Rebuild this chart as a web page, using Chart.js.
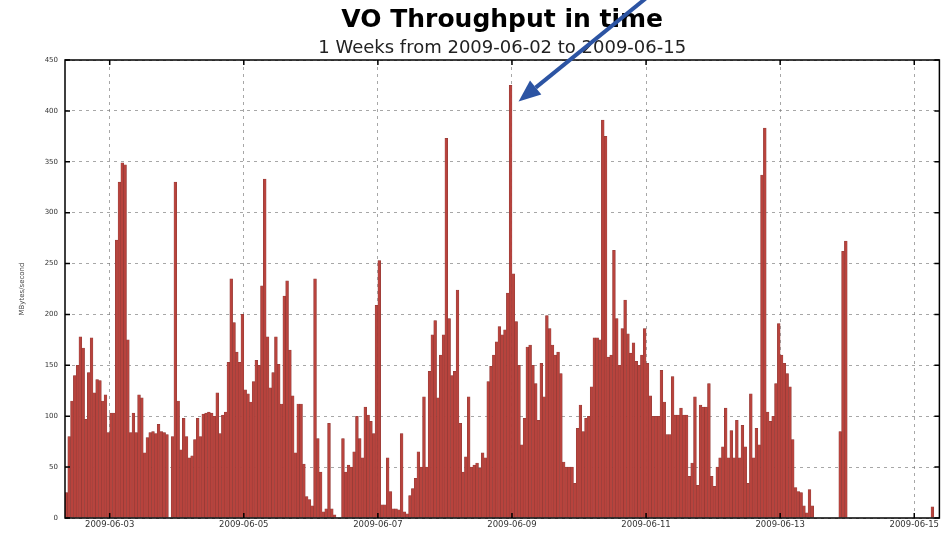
<!DOCTYPE html>
<html>
<head>
<meta charset="utf-8">
<script src="https://cdn.jsdelivr.net/npm/chart.js@4/dist/chart.umd.min.js"></script>
<style>
  html, body { margin: 0; padding: 0; background: #ffffff; }
  canvas { display: block; }
</style>
</head>
<body>
<canvas id="c" width="941" height="533"></canvas>
<script>
// ---- data ----
const startHour = 8;            // first bar: 2009-06-02 08:00 (hours since 2009-06-02 00:00)
const endHour = 321;            // right edge of the axis
const throughput = [
  25, 80, 115, 140, 150, 178, 167, 97, 143, 177, 123, 136, 135, 115, 121, 84,
  103, 103, 273, 330, 349, 347, 175, 84, 103, 84, 121, 118, 64, 79, 84, 85,
  83, 92, 85, 84, 82, 0, 80, 330, 115, 67, 98, 80, 59, 61, 77, 98,
  80, 102, 103, 104, 103, 100, 123, 83, 101, 104, 153, 235, 192, 163, 153, 200,
  126, 122, 114, 134, 155, 150, 228, 333, 178, 128, 143, 178, 151, 112, 218, 233,
  165, 120, 64, 112, 112, 53, 21, 18, 12, 235, 78, 45, 6, 9, 93, 9,
  3, 0, 0, 78, 45, 52, 50, 65, 100, 78, 59, 109, 101, 95, 83, 209,
  253, 13, 13, 59, 26, 9, 9, 8, 83, 6, 4, 22, 29, 39, 65, 50,
  119, 50, 144, 180, 194, 118, 160, 180, 373, 196, 140, 144, 224, 93, 45, 60,
  119, 50, 52, 54, 49, 64, 59, 134, 149, 160, 173, 188, 180, 185, 221, 425,
  240, 193, 150, 72, 98, 168, 170, 150, 132, 96, 152, 119, 199, 186, 170, 160,
  163, 142, 55, 50, 50, 50, 34, 88, 111, 85, 98, 100, 129, 177, 177, 175,
  391, 375, 158, 160, 263, 196, 150, 186, 214, 181, 162, 172, 154, 150, 160, 186,
  152, 120, 100, 100, 100, 145, 114, 82, 82, 139, 101, 101, 108, 101, 101, 41,
  54, 119, 32, 111, 109, 109, 132, 41, 31, 50, 59, 70, 108, 59, 86, 59,
  96, 59, 91, 70, 34, 122, 59, 88, 72, 337, 383, 104, 95, 100, 132, 191,
  160, 152, 142, 129, 77, 30, 26, 25, 12, 5, 28, 12, 0, 0, 0, 0,
  0, 0, 0, 0, 0, 85, 262, 272, 0, 0, 0, 0, 0, 0, 0, 0,
  0, 0, 0, 0, 0, 0, 0, 0, 0, 0, 0, 0, 0, 0, 0, 0,
  0, 0, 0, 0, 0, 0, 11, 0, 0
];
const tickHours = [24, 72, 120, 168, 216, 264, 312];
const tickLabels = ['2009-06-03', '2009-06-05', '2009-06-07', '2009-06-09', '2009-06-11', '2009-06-13', '2009-06-15'];
const yTicks = [0, 50, 100, 150, 200, 250, 300, 350, 400, 450];
const peakIndex = 159;

const titleText = 'VO Throughput in time';
const subtitleText = '1 Weeks from 2009-06-02 to 2009-06-15';
const yLabel = 'MBytes/second';

const points = throughput.map((v, i) => ({ x: startHour + i + 0.5, y: v }));

// frame + inward ticks (matplotlib style)
const framePlugin = {
  id: 'frame',
  afterDatasetsDraw(chart) {
    const { ctx, chartArea: a, scales } = chart;
    ctx.save();
    ctx.strokeStyle = '#000';
    ctx.lineWidth = 1.5;
    ctx.strokeRect(a.left, a.top, a.right - a.left, a.bottom - a.top);
    ctx.beginPath();
    yTicks.forEach(v => {
      const y = scales.y.getPixelForValue(v);
      ctx.moveTo(a.left, y); ctx.lineTo(a.left + 5, y);
      ctx.moveTo(a.right, y); ctx.lineTo(a.right - 5, y);
    });
    tickHours.forEach(h => {
      const x = scales.x.getPixelForValue(h);
      ctx.moveTo(x, a.bottom); ctx.lineTo(x, a.bottom - 5);
      ctx.moveTo(x, a.top); ctx.lineTo(x, a.top + 5);
    });
    ctx.stroke();
    ctx.restore();
  }
};

// annotation arrow pointing at the peak bar
const arrowPlugin = {
  id: 'arrow',
  afterDraw(chart) {
    const el = chart.getDatasetMeta(0).data[peakIndex];
    if (!el) return;
    const { ctx } = chart;
    const tipX = el.x + 8, tipY = el.y + 16;
    const tailX = tipX + 137, tailY = tipY - 111;
    const ang = Math.atan2(tipY - tailY, tipX - tailX);
    const headLen = 22, headHalf = 9;
    const baseX = tipX - headLen * Math.cos(ang), baseY = tipY - headLen * Math.sin(ang);
    ctx.save();
    ctx.strokeStyle = '#2c54a3';
    ctx.fillStyle = '#2c54a3';
    ctx.lineWidth = 4;
    ctx.beginPath();
    ctx.moveTo(tailX, tailY);
    ctx.lineTo(baseX, baseY);
    ctx.stroke();
    ctx.beginPath();
    ctx.moveTo(tipX, tipY);
    ctx.lineTo(baseX + headHalf * Math.sin(ang), baseY - headHalf * Math.cos(ang));
    ctx.lineTo(baseX - headHalf * Math.sin(ang), baseY + headHalf * Math.cos(ang));
    ctx.closePath();
    ctx.fill();
    ctx.restore();
  }
};

new Chart(document.getElementById('c'), {
  type: 'bar',
  data: {
    datasets: [{
      data: points,
      backgroundColor: '#b8433d',
      borderColor: '#8a3a36',
      borderWidth: 0.5,
      barPercentage: 1.0,
      categoryPercentage: 1.0
    }]
  },
  options: {
    responsive: false,
    animation: false,
    devicePixelRatio: 1,
    layout: { padding: { left: 0, right: 1, top: 0, bottom: 0 } },
    plugins: {
      legend: { display: false },
      tooltip: { enabled: false },
      title: {
        display: true,
        text: titleText,
        fullSize: false,
        color: '#000',
        font: { family: 'DejaVu Sans', size: 25, weight: 'bold', lineHeight: 1.2 },
        padding: { top: 5, bottom: 0 }
      },
      subtitle: {
        display: true,
        text: subtitleText,
        fullSize: false,
        color: '#222',
        font: { family: 'DejaVu Sans', size: 18, weight: 'normal', lineHeight: 1.2 },
        padding: { top: 2.2, bottom: 1.2 }
      }
    },
    scales: {
      x: {
        type: 'linear',
        offset: false,
        min: startHour,
        max: endHour,
        afterBuildTicks: s => { s.ticks = tickHours.map(v => ({ value: v })); },
        afterFit: s => { s.height = 15; },
        ticks: {
          autoSkip: false,
          maxRotation: 0,
          padding: 2,
          color: '#333',
          font: { family: 'DejaVu Sans', size: 8.5 },
          callback: v => tickLabels[tickHours.indexOf(v)]
        },
        grid: { offset: false, color: 'rgba(120,120,120,0.65)', lineWidth: 1, drawTicks: false },
        border: { display: false, dash: [3, 4] }
      },
      y: {
        min: 0,
        max: 450,
        afterBuildTicks: s => { s.ticks = yTicks.map(v => ({ value: v })); },
        afterFit: s => { s.width = 65; },
        ticks: {
          padding: 7,
          color: '#333',
          font: { family: 'DejaVu Sans', size: 7 }
        },
        title: {
          display: true,
          text: yLabel,
          color: '#444',
          font: { family: 'DejaVu Sans', size: 7 },
          padding: { top: 18, bottom: 0 }
        },
        grid: { color: 'rgba(120,120,120,0.65)', lineWidth: 1, drawTicks: false },
        border: { display: false, dash: [3, 4] }
      }
    }
  },
  plugins: [framePlugin, arrowPlugin]
});
</script>
</body>
</html>
